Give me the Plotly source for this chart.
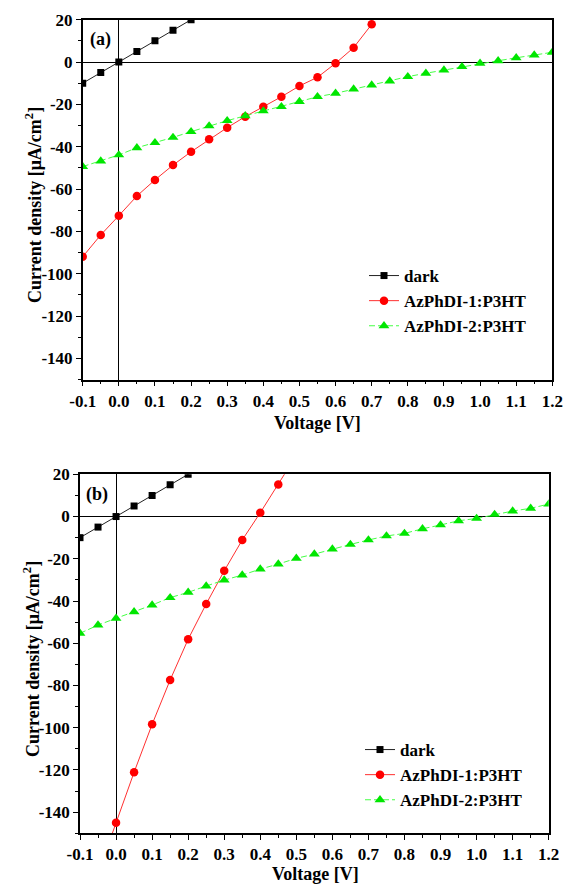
import plotly.graph_objects as go

# ---------------- data ----------------
# panel (a)
a_dark_x = [-0.1, -0.05, 0.0, 0.05, 0.1, 0.15, 0.2, 0.25]
a_dark_y = [-10, -5, 0, 5, 10, 15, 20, 25]

a_az1_x = [-0.1, -0.05, 0.0, 0.05, 0.1, 0.15, 0.2, 0.25, 0.3, 0.35, 0.4, 0.45,
           0.5, 0.55, 0.6, 0.65, 0.7]
a_az1_y = [-92.0, -81.7, -72.6, -63.3, -55.7, -48.7, -42.4, -36.5, -31.0, -25.8,
           -21.1, -16.4, -11.3, -7.2, -0.6, 6.8, 17.8]

a_az2_x = [-0.1, -0.05, 0.0, 0.05, 0.1, 0.15, 0.2, 0.25, 0.3, 0.35, 0.4, 0.45,
           0.5, 0.55, 0.6, 0.65, 0.7, 0.75, 0.8, 0.85, 0.9, 0.95, 1.0, 1.05,
           1.1, 1.15, 1.2]
a_az2_y = [-49.4, -46.8, -43.9, -40.5, -38.1, -35.6, -32.9, -30.2, -27.7, -25.4,
           -23.1, -21.1, -18.7, -16.4, -14.8, -12.8, -10.9, -9.0, -6.9, -5.3,
           -3.8, -2.2, -0.6, 0.6, 2.0, 3.3, 4.6]

# panel (b)
b_dark_x = [-0.1, -0.05, 0.0, 0.05, 0.1, 0.15, 0.2, 0.25]
b_dark_y = [-10, -5, 0, 5, 10, 15, 20, 25]

b_az1_x = [-0.05, 0.0, 0.05, 0.1, 0.15, 0.2, 0.25, 0.3, 0.35, 0.4, 0.45, 0.5]
b_az1_y = [-169.0, -145.0, -121.1, -98.4, -77.4, -58.1, -41.4, -25.7, -11.1,
           1.8, 15.2, 29.0]

b_az2_x = a_az2_x
b_az2_y = [-55.3, -51.4, -48.2, -45.1, -41.9, -38.4, -35.9, -32.9, -30.1, -27.7,
           -24.9, -22.5, -19.8, -17.8, -15.4, -13.2, -11.1, -9.2, -8.0, -5.8,
           -4.0, -2.0, -0.9, 1.0, 2.6, 3.9, 5.9]

series_names = ["dark", "AzPhDI-1:P3HT", "AzPhDI-2:P3HT"]
panel_labels = ["(a)", "(b)"]
x_title = "Voltage [V]"
y_title = "Current density [μA/cm<sup>2</sup>]"

x_tick_vals = [-0.1, 0.0, 0.1, 0.2, 0.3, 0.4, 0.5, 0.6, 0.7, 0.8, 0.9, 1.0, 1.1, 1.2]
x_tick_text = ["-0.1", "0.0", "0.1", "0.2", "0.3", "0.4", "0.5", "0.6", "0.7",
               "0.8", "0.9", "1.0", "1.1", "1.2"]
y_tick_vals = [-140, -120, -100, -80, -60, -40, -20, 0, 20]
y_tick_text = ["-140", "-120", "-100", "-80", "-60", "-40", "-20", "0", "20"]

# ---------------- style ----------------
FONT = "Liberation Serif"
BLACK = "#000000"
RED_M, RED_L = "#ff0000", "#ff3030"
GRN_M, GRN_L = "#00e600", "#44ff44"

fig = go.Figure()


def add_panel(xs, ys, xa, ya, legend):
    specs = [
        dict(sym="square", size=7, mc=BLACK, lc="#222222", dash="solid"),
        dict(sym="circle", size=8.5, mc=RED_M, lc=RED_L, dash="solid"),
        dict(sym="triangle-up", size=9.5, mc=GRN_M, lc=GRN_L, dash="6px,3px"),
    ]
    for (x, y), name, s in zip(zip(xs, ys), series_names, specs):
        fig.add_trace(go.Scatter(
            x=x, y=y, name=name, mode="lines+markers",
            xaxis=xa, yaxis=ya, legend=legend,
            line=dict(color=s["lc"], width=1, dash=s["dash"]),
            marker=dict(symbol=s["sym"], size=s["size"], color=s["mc"],
                        line=dict(width=0)),
        ))


add_panel([a_dark_x, a_az1_x, a_az2_x], [a_dark_y, a_az1_y, a_az2_y], "x", "y", "legend")
add_panel([b_dark_x, b_az1_x, b_az2_x], [b_dark_y, b_az1_y, b_az2_y], "x2", "y2", "legend2")

W, H = 563, 886


def px_x(p):
    return p / W


def px_y(p):
    return 1 - p / H


tickfont = dict(family=FONT, size=17, color=BLACK, weight="bold")
legfont = dict(family=FONT, size=17, color=BLACK, weight="bold")

xcommon = dict(
    range=[-0.1, 1.2], tickvals=x_tick_vals, ticktext=x_tick_text,
    ticks="outside", ticklen=5, tickwidth=1.2, tickcolor=BLACK,
    minor=dict(ticks="outside", ticklen=3, dtick=0.05, tick0=0, tickcolor=BLACK),
    showline=True, linecolor=BLACK, linewidth=1.5, mirror=True,
    showgrid=False, zeroline=True, zerolinecolor=BLACK, zerolinewidth=1.3,
    tickfont=tickfont, automargin=False, fixedrange=True,
)
ycommon = dict(
    range=[-150, 20], tickvals=y_tick_vals, ticktext=y_tick_text,
    ticks="outside", ticklen=5, tickwidth=1.2, tickcolor=BLACK,
    minor=dict(ticks="outside", ticklen=3, dtick=10, tick0=0, tickcolor=BLACK),
    showline=True, linecolor=BLACK, linewidth=1.5, mirror=True,
    showgrid=False, zeroline=True, zerolinecolor=BLACK, zerolinewidth=1.3,
    tickfont=tickfont, automargin=False, fixedrange=True,
)


def note(text, x, y, size=18, angle=0):
    return dict(text=text, x=px_x(x), y=px_y(y), xref="paper", yref="paper",
                xanchor="center", yanchor="middle", showarrow=False,
                textangle=angle,
                font=dict(family=FONT, size=size, color=BLACK, weight="bold"))


fig.update_layout(
    width=W, height=H, autosize=False,
    margin=dict(l=0, r=0, t=0, b=0, pad=0),
    paper_bgcolor="white", plot_bgcolor="white",
    showlegend=True,
    xaxis=dict(domain=[px_x(82.7), px_x(552.3)], anchor="y", **xcommon),
    yaxis=dict(domain=[px_y(379.5), px_y(19.7)], anchor="x", **ycommon),
    xaxis2=dict(domain=[px_x(80), px_x(548.7)], anchor="y2", **xcommon),
    yaxis2=dict(domain=[px_y(833.3), px_y(474.3)], anchor="x2", **ycommon),
    legend=dict(x=px_x(364), y=px_y(258), xanchor="left", yanchor="top",
                bgcolor="rgba(0,0,0,0)", font=legfont, tracegroupgap=0,
                itemwidth=30),
    legend2=dict(x=px_x(360), y=px_y(732), xanchor="left", yanchor="top",
                 bgcolor="rgba(0,0,0,0)", font=legfont, tracegroupgap=0,
                 itemwidth=30),
    annotations=[
        note(panel_labels[0], 100, 40),
        note(panel_labels[1], 97, 494),
        note(x_title, 317, 423),
        note(x_title, 315, 874),
        note(y_title, 33, 205, angle=-90),
        note(y_title, 31, 659, angle=-90),
    ],
)

fig.write_html("out.html", post_script="document.body.style.margin='0';")
